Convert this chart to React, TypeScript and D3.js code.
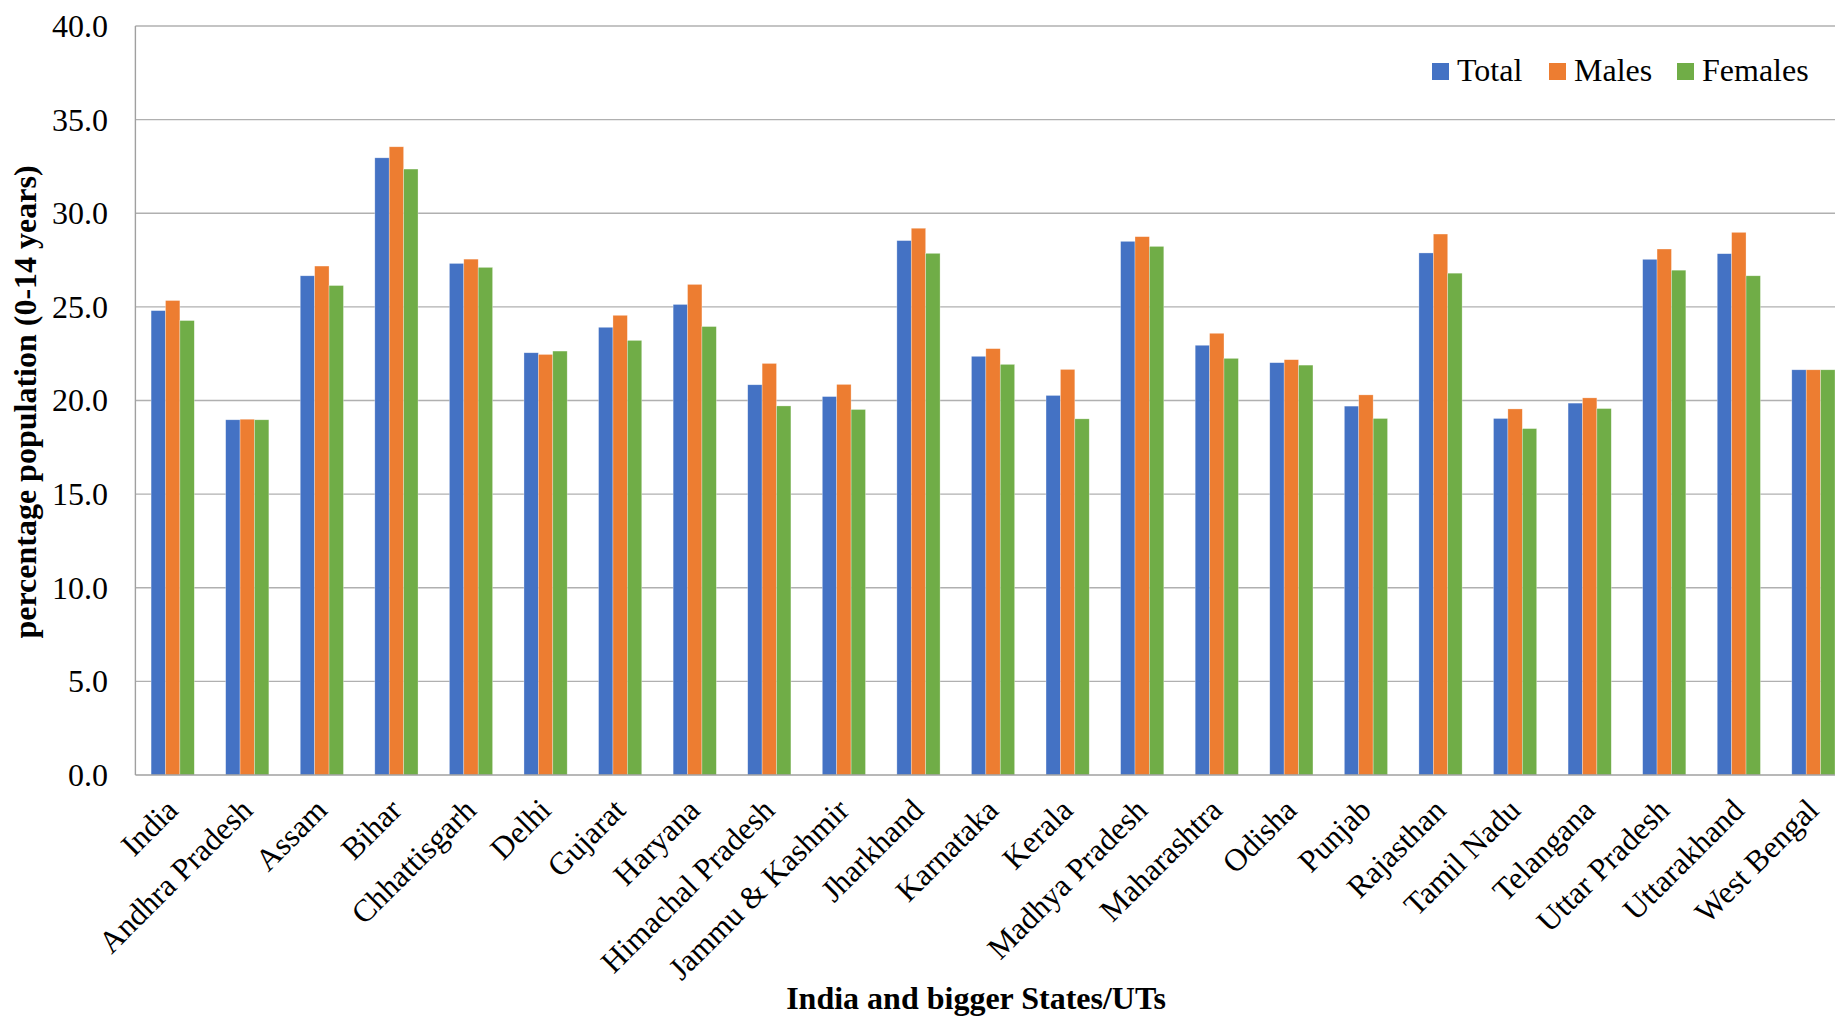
import React from "react";
import * as d3 from "d3";

const categories = [
  "India", "Andhra Pradesh", "Assam", "Bihar", "Chhattisgarh", "Delhi", "Gujarat",
  "Haryana", "Himachal Pradesh", "Jammu & Kashmir", "Jharkhand", "Karnataka", "Kerala",
  "Madhya Pradesh", "Maharashtra", "Odisha", "Punjab", "Rajasthan", "Tamil Nadu",
  "Telangana", "Uttar Pradesh", "Uttarakhand", "West Bengal",
];
const totalValues = [24.8, 18.97, 26.66, 32.96, 27.32, 22.55, 23.91, 25.13, 20.84, 20.21, 28.54, 22.36, 20.27, 28.5, 22.95, 22.02, 19.7, 27.88, 19.04, 19.86, 27.54, 27.84, 21.64];
const maleValues = [25.34, 19.0, 27.18, 33.55, 27.55, 22.46, 24.55, 26.2, 21.98, 20.86, 29.2, 22.77, 21.66, 28.75, 23.59, 22.18, 20.3, 28.89, 19.55, 20.14, 28.09, 28.98, 21.64];
const femaleValues = [24.27, 18.97, 26.14, 32.36, 27.11, 22.64, 23.21, 23.95, 19.71, 19.52, 27.86, 21.93, 19.02, 28.23, 22.25, 21.89, 19.04, 26.8, 18.5, 19.57, 26.96, 26.66, 21.64];
const seriesNames = ["Total", "Males", "Females"];
const seriesColors = ["#4472C4", "#ED7D31", "#70AD47"];
const yTicks = [0, 5, 10, 15, 20, 25, 30, 35, 40];

const W = 1835;
const H = 1018;
const plotLeft = 135.4;
const plotRight = 1850.7;
const plotTop = 26;
const plotBottom = 775;
const FONT = "'Liberation Serif', 'Times New Roman', serif";

export default function App() {
  const seriesData = [totalValues, maleValues, femaleValues];
  const x0 = d3.scaleBand<string>().domain(categories).range([plotLeft, plotRight]).padding(0);
  const groupW = 43.2;
  const x1 = d3.scaleBand<string>().domain(seriesNames).range([0, groupW]).padding(0);
  const y = d3.scaleLinear().domain([0, 40]).range([plotBottom, plotTop]);
  const fmt = d3.format(".1f");

  return (
    <svg width={W} height={H} style={{ position: "absolute", left: 0, top: 0, background: "#fff" }} fontFamily={FONT}>
      <rect x={0} y={0} width={W} height={H} fill="#fff" />
      {yTicks.map((t) => (
        <g key={t}>
          {t > 0 && (
            <line x1={plotLeft} x2={W} y1={y(t)} y2={y(t)} stroke="#b0b0b0" strokeWidth={1.4} />
          )}
          <text x={108} y={y(t)} dy="0.34em" textAnchor="end" fontSize={32} fill="#000">
            {fmt(t)}
          </text>
        </g>
      ))}
      {categories.map((c, i) => {
        const gx = (x0(c) as number) + (x0.bandwidth() - groupW) / 2;
        return (
          <g key={c}>
            {seriesNames.map((s, k) => {
              const v = seriesData[k][i];
              return (
                <rect
                  key={s}
                  x={gx + (x1(s) as number)}
                  y={y(v)}
                  width={x1.bandwidth()}
                  height={y(0) - y(v)}
                  fill={seriesColors[k]}
                  stroke="#ffffff"
                  strokeOpacity={0.5}
                  strokeWidth={0.6}
                />
              );
            })}
          </g>
        );
      })}
      <line x1={plotLeft} x2={plotLeft} y1={plotTop} y2={plotBottom} stroke="#a0a0a0" strokeWidth={1.4} />
      <line x1={plotLeft} x2={W} y1={plotBottom} y2={plotBottom} stroke="#a0a0a0" strokeWidth={1.4} />
      {categories.map((c) => {
        const cx = (x0(c) as number) + x0.bandwidth() / 2;
        return (
          <text
            key={c}
            transform={`translate(${cx + 7},${812}) rotate(-45)`}
            textAnchor="end"
            fontSize={31.5}
            fill="#000"
          >
            {c}
          </text>
        );
      })}
      <text
        transform={`translate(36,402) rotate(-90)`}
        textAnchor="middle"
        fontSize={32}
        fontWeight="bold"
        fill="#000"
      >
        percentage population (0-14 years)
      </text>
      <text x={976} y={1009} textAnchor="middle" fontSize={32} fontWeight="bold" fill="#000">
        India and bigger States/UTs
      </text>
      {seriesNames.map((s, k) => {
        const lx = [1432, 1549, 1677][k];
        return (
          <g key={s}>
            <rect x={lx} y={63} width={17} height={17} fill={seriesColors[k]} />
            <text x={lx + 25} y={81} fontSize={32} fill="#000">
              {s}
            </text>
          </g>
        );
      })}
    </svg>
  );
}
